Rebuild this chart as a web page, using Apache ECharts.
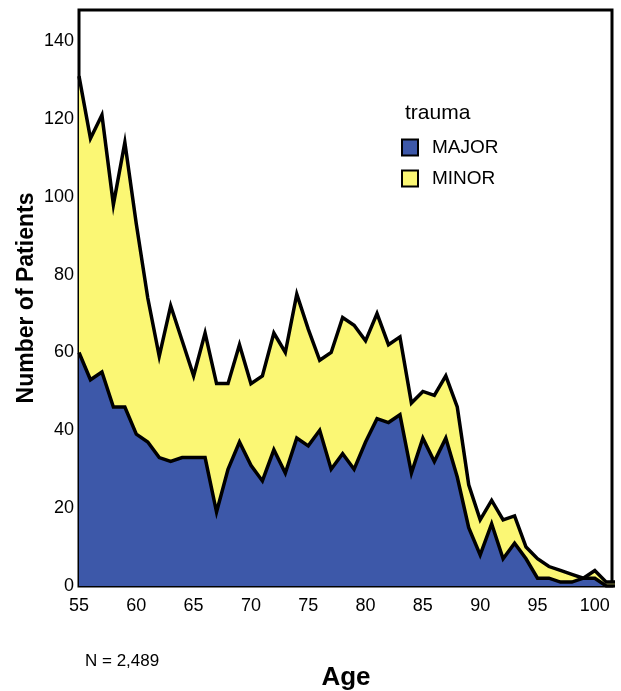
<!DOCTYPE html>
<html>
<head>
<meta charset="utf-8">
<script src="https://cdn.jsdelivr.net/npm/echarts@6/dist/echarts.min.js"></script>
<style>
html,body{margin:0;padding:0;background:#fff;}
#c{width:621px;height:691px;}
</style>
</head>
<body>
<div id="c"></div>
<script>
const ages = [55,56,57,58,59,60,61,62,63,64,65,66,67,68,69,70,71,72,73,74,75,76,77,78,79,80,81,82,83,84,85,86,87,88,89,90,91,92,93,94,95,96,97,98,99,100,101,102];
const major = [60,53,55,46,46,39,37,33,32,33,33,33,19,30,37,31,27,35,29,38,36,40,30,34,30,37,43,42,44,29,38,32,38,28,15,8,16,7,11,7,2,2,1,1,2,2,0,0];
const minor = [71,62,66,52,68,54,37,26,40,30,21,32,33,22,25,21,27,30,31,37,30,18,30,35,37,26,27,20,20,18,12,17,16,18,11,9,6,10,7,3,5,3,3,2,0,2,1,1];
const seriesNames = ['MAJOR','MINOR'];
const seriesColors = ['#3d58a9','#fbf774'];
const yTicks = [0,20,40,60,80,100,120,140];
const xTicks = [55,60,65,70,75,80,85,90,95,100];

// stacked top of the MINOR band = MAJOR + MINOR
const stackedTop = ages.map((a,i)=>[a, major[i] + minor[i]]);
const majorPts = ages.map((a,i)=>[a, major[i]]);

const chart = echarts.init(document.getElementById('c'), null, {renderer:'canvas'});
const font = 'Liberation Sans, Arial, sans-serif';
chart.setOption({
  animation:false,
  backgroundColor:'#fff',
  grid:{left:79,top:10,right:9,bottom:105,show:true,borderColor:'#000',borderWidth:3,backgroundColor:'#fff',z:0},
  xAxis:{type:'value',min:55,max:101.5,interval:5,
    axisLine:{show:false},axisTick:{show:false},splitLine:{show:false},
    axisLabel:{showMaxLabel:false,margin:11,fontFamily:font,fontSize:18,color:'#000',
      formatter:v=>xTicks.includes(v)?String(v):''}},
  yAxis:{type:'value',min:0,max:148,interval:20,
    axisLine:{show:false},axisTick:{show:false},splitLine:{show:false},
    axisLabel:{showMaxLabel:false,margin:5,fontFamily:font,fontSize:18,color:'#000',
      formatter:v=>yTicks.includes(v)?String(v):''}},
  legend:{orient:'vertical',left:396,top:133,itemWidth:16,itemHeight:16,itemGap:12,icon:'rect',
    data:seriesNames,
    itemStyle:{borderColor:'#000',borderWidth:2},
    textStyle:{fontFamily:font,fontSize:19,color:'#000',padding:[0,0,0,9]}},
  graphic:[
    {type:'text',left:405,top:103,style:{text:'trauma',font:'21px '+font,fill:'#000'}},
    {type:'text',x:27,y:298,rotation:Math.PI/2,style:{text:'Number of Patients',font:'bold 23px '+font,fill:'#000',align:'center',verticalAlign:'middle'}},
    {type:'text',x:346,y:678,style:{text:'Age',font:'bold 26px '+font,fill:'#000',align:'center',verticalAlign:'middle'}},
    {type:'text',x:85,y:661,style:{text:'N = 2,489',font:'17px '+font,fill:'#000',align:'left',verticalAlign:'middle'}}
  ],
  series:[
    {name:seriesNames[1],type:'line',data:stackedTop,showSymbol:false,z:3,
      itemStyle:{color:seriesColors[1]},
      lineStyle:{color:'#000',width:3.5,join:'miter'},
      areaStyle:{color:seriesColors[1],opacity:1,origin:'start'}},
    {name:seriesNames[0],type:'line',data:majorPts,showSymbol:false,z:4,
      itemStyle:{color:seriesColors[0]},
      lineStyle:{color:'#000',width:3.5,join:'miter'},
      areaStyle:{color:seriesColors[0],opacity:1,origin:'start'}}
  ]
});
</script>
</body>
</html>
